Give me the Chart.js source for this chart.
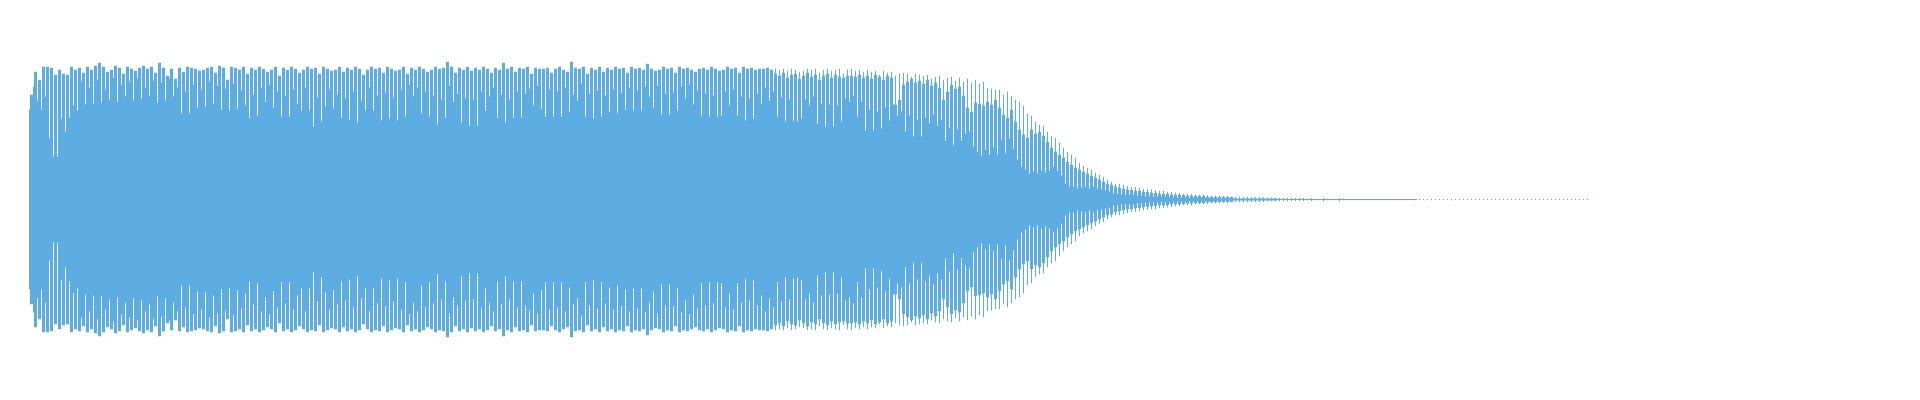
<!DOCTYPE html>
<html>
<head>
<meta charset="utf-8">
<script src="https://cdn.jsdelivr.net/npm/chart.js@4/dist/chart.umd.min.js"></script>
<style>
html,body{margin:0;padding:0;background:#fff;}
#wrap{width:1920px;height:400px;position:relative;}
</style>
</head>
<body>
<div id="wrap"><canvas id="c"></canvas></div>
<script>
// Peak amplitude of each sample bucket (symmetric about zero)
const outer = [
105,128,120,133,133,132,125,130,126,125,133,130,
132,127,133,130,134,137,133,128,130,134,132,126,133,131,129,132,134,131,133,127,
137,132,124,131,121,132,128,133,132,131,129,130,132,133,127,134,132,120,133,132,
130,133,126,132,130,133,131,128,130,133,124,132,130,133,131,127,130,133,131,132,
126,133,131,129,130,133,128,132,130,133,131,125,130,133,131,132,127,133,131,129,
130,133,126,132,130,133,131,128,130,133,131,132,138,133,127,132,130,133,129,132,
130,133,131,127,132,130,137,131,133,128,132,131,133,126,132,131,
131,132,127,131,133,130,128,138,132,131,133,126,132,130,133,128,132,130,133,131,
132,127,133,131,132,130,136,131,129,130,133,131,132,127,133,131,132,130,128,131,
132,130,133,131,129,130,133,131,132,127,133,131,132,130,131,131,132,130,131,130,131,129,
131,130,128,129,131,130,131,127,130,131,129,130,131,126,130,131,129,130,128,130,
128,129,125,129,127,128,124,126,127,126,123,126,125,124,125,121,123,124,120,122,123,119,122,118,121,117,
120,116,118,112,111,110,110,105,108,104,100,98,94,86,84,78,75,74,68,64,62,57,52,48,
45,42,37,34,32,30,27,25,23,20,18,16,15.5,14.5,13.5,13,12.5,12,11,10.5,10,9.5,9,8.5,8,7.5,7,6.5,6,5.5,
5.5,5,5,4.5,4.5,4,4,3.5,3.5,3.5,3,3,3,3,2.5,2.5,2.5,2.5,2.5,2,2,2,2,2,2,2,1.5,1.5,
1.5,1,1.5,1,1,1.5,1,1,1,1.5,1,1,1,1,1,1,1,1,1,1,1,1,1,1,1,1,1,1,1,
1,0.5,0.5,1,0.5,0.5,0.5,0.5,1,0.5,0.5,0.5,0.5,0.5,0.5,0.5,0.5,0.5,0.5,0.5,
0.5,0.5,0.5,0.5,0.5,0.5,0.5,0.5,0.5,0.5,0.5,0.5,0.5,0.5,0.5,0.5,0.5,0.5,0.5,0.5,0.5,0.5,0.5
];
// Medium-level amplitude in the decay part, from bucket MID_START on
const MID_START = 186;
const mid = [
126,124,127,122,125,126,121,124,127,123,125,120,124,126,122,125,123,122,124,
124,123,125,122,124,121,125,123,120,124,122,
94,100,
115,118,121,117,119,116,120,114,117,
112,100,108,115,111,113,
104,92,88,97,
96,94,98,95,
100,92,85,82,90,
78,70,65,62,
70,66,68,64,
58,52,48,45,42,
38,35,32,30,28,
26,24,22,20,18,
16,15,13,12,11,
10,9.5,9,8.5,8,7.5,7,
6.5,6,6,5.5,5,5,4.5,4.5,4,4,3.5,3.5,3.5,3,3,3,2.5,2.5,2.5,2.5
];
// Solid (inner) amplitude of each sample bucket
const inner = [
90,113,99,90,103,61,43,43,81,68,82,94,
89,118,95,112,96,120,97,110,100,122,98,115,103,118,99,121,101,112,104,119,
97,117,99,121,103,112,86,108,86,115,92,110,93,118,96,114,90,111,89,116,
91,109,94,82,105,84,112,98,115,92,108,83,104,83,110,96,89,112,89,73,
102,78,93,110,91,105,82,101,80,108,77,99,89,112,89,104,79,107,81,102,
79,110,83,115,103,112,86,108,83,104,75,100,82,114,98,106,77,101,74,100,
74,108,89,103,112,82,105,77,100,82,108,82,106,111,94,114,
91,83,110,83,108,83,112,88,105,99,116,83,106,81,109,83,104,88,110,86,
107,90,112,89,109,89,113,103,92,114,85,106,85,107,89,113,101,115,95,109,
84,106,83,104,83,84,108,94,110,84,103,79,101,81,106,96,112,99,108,83,102,78,
100,79,78,81,100,94,103,76,96,73,95,73,94,78,101,98,104,83,98,69,
90,69,88,71,92,79,95,84,88,68,84,63,80,63,82,76,85,74,80,59,72,54,70,59,66,68,
53,48,44,50,45,52,45,60,46,61,51,40,33,30,26,28,26,29,27,29,33,29,24,16,
13,13,11,12,13,11,13,11,10,9,8,6,5.5,5,4.5,4.5,4.5,3.5,3.5,3,3,3,3,2.5,2.5,2.5,2,2,2,2,
1.5,1.5,1.5,1.5,1.5,1.5,1.5,1,1,1,1,1,1,1,1,1,1,1,1,1,1,1,0.5,0.5,0.5,0.5,0.5,0.5,
0.5,0.5,0.5,0.5,0.5,0.5,0.5,0.5,0.5,0.5,0.5,0.5,0.5,0.5,0.5,0.5,0.5,0.5,0.5,0.5,0.5,0.5,0.5,0.5,0.5,0.5,0.5,0.5,0.5
];
const samples = outer.map((_, i) => i);

const BLUE = '#5DADE2';
const SLOT = 4, LEFT = 29;

const common = {
  backgroundColor: BLUE,
  grouped: false,
  barPercentage: 1,
  categoryPercentage: 1,
  inflateAmount: 0,
  borderSkipped: false
};

const midData = samples.map(i => {
  const k = i - MID_START;
  return (k >= 0 && k < mid.length) ? [-mid[k], mid[k]] : null;
});

new Chart(document.getElementById('c'), {
  type: 'bar',
  data: {
    labels: samples,
    datasets: [
      Object.assign({
        label: 'body',
        data: inner.map(v => [-v, v]),
        borderWidth: 0
      }, common),
      Object.assign({
        label: 'mid',
        data: midData,
        borderColor: '#ffffff',
        borderWidth: {left: 1, right: 0, top: 0, bottom: 0}
      }, common),
      Object.assign({
        label: 'peaks',
        data: outer.map(v => [-v, v]),
        borderColor: '#ffffff',
        borderWidth: ctx => ctx.dataIndex < MID_START
          ? {left: 1, right: 0, top: 0, bottom: 0}
          : {left: 2, right: 1, top: 0, bottom: 0}
      }, common)
    ]
  },
  options: {
    responsive: true,
    maintainAspectRatio: false,
    animation: false,
    events: [],
    layout: {
      padding: {left: LEFT, right: 1920 - LEFT - SLOT * samples.length, top: 40, bottom: 40}
    },
    plugins: {legend: {display: false}, tooltip: {enabled: false}},
    scales: {
      x: {display: false, grid: {display: false}},
      y: {display: false, min: -160.5, max: 159.5, grid: {display: false}}
    }
  }
});
</script>
</body>
</html>
